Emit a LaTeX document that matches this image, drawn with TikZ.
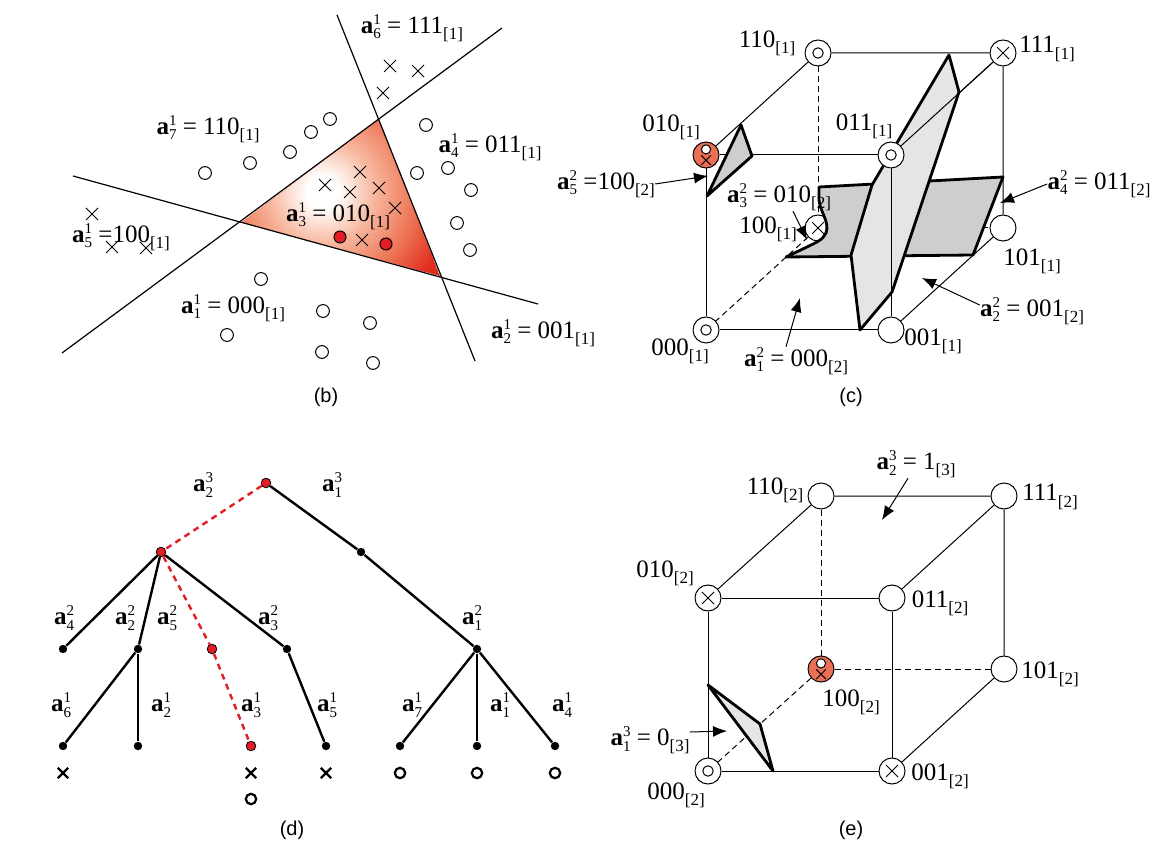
\documentclass[tikz,border=0pt]{standalone}
\usepackage{fontspec}
\setmainfont{Liberation Serif}
\newfontfamily\capfont{Liberation Sans}
\usetikzlibrary{arrows.meta,calc,backgrounds}
\definecolor{DotRed}{RGB}{228,28,36}
\definecolor{TriRed}{rgb}{0.88,0.18,0.12}
\definecolor{Salmon}{RGB}{234,112,86}
\definecolor{PaneDark}{RGB}{205,206,208}
\definecolor{PaneLight}{RGB}{228,229,231}
\pgfdeclareradialshading{trishade}{\pgfpointorigin}{rgb(0bp)=(1,1,1); rgb(3bp)=(1,1,1); rgb(10bp)=(0.97,0.72,0.62); rgb(18bp)=(0.93,0.45,0.33); rgb(25bp)=(0.88,0.18,0.12); rgb(50bp)=(0.88,0.18,0.12)}
\newcommand\labfont{\fontsize{12.5}{14}\selectfont}
\newcommand\scr{\fontsize{7.5}{8}\selectfont}
\newcommand\av[2]{\textbf{a}\rlap{\raisebox{0.8ex}{\scr #2}}\raisebox{-0.5ex}{\scr #1}}
\newcommand\brk[1]{\raisebox{-0.55ex}{\fontsize{8.5}{9}\selectfont[#1]}}
\tikzset{
  lab/.style={font=\labfont,inner sep=0pt},
  caplab/.style={font=\capfont\fontsize{10}{12}\selectfont,inner sep=0pt},
  arr/.style={-{Latex[length=7pt,width=5.5pt]},line width=0.5pt},
  sepline/.style={line width=0.6pt},
  mk/.style={line width=0.5pt},
  cubeline/.style={line width=0.5pt},
  hid/.style={cubeline,dash pattern=on 3pt off 2pt},
  sheet/.style={line width=1.4pt,line join=round},
  vtx/.style={circle,draw,fill=white,minimum size=13pt,inner sep=0pt,line width=0.5pt},
  ovtx/.style={vtx,path picture={\draw[line width=0.5pt] (path picture bounding box.center) circle[radius=2.6pt];}},
  xvtx/.style={vtx,path picture={\draw[line width=0.5pt,shift={(path picture bounding box.center)}] (-3pt,-3pt) -- (3pt,3pt) (-3pt,3pt) -- (3pt,-3pt);}},
  bvtx/.style={vtx,fill=Salmon,path picture={
    \draw[line width=0.5pt,fill=white,shift={(path picture bounding box.center)}] (0pt,2.8pt) circle[radius=2.3pt];
    \draw[line width=0.5pt,shift={(path picture bounding box.center)}] (-2.4pt,-5pt) -- (2.4pt,-0.2pt) (-2.4pt,-0.2pt) -- (2.4pt,-5pt);}},
  bdot/.style={circle,fill=black,minimum size=4.2pt,inner sep=0pt},
  rdot/.style={circle,draw=black,fill=DotRed,line width=0.4pt,minimum size=4.8pt,inner sep=0pt},
  tedge/.style={line width=1.2pt},
  redge/.style={line width=1.2pt,draw=DotRed,dash pattern=on 3pt off 2.4pt},
  leafmk/.style={line width=1.1pt}
}

\begin{document}
\begin{tikzpicture}[x=0.5pt,y=-0.5pt]
  \useasboundingbox (0,0) rectangle (1159,854);

  % (b) regions of the first layer
  \begin{scope}
    \clip (242,222) -- (379,119) -- (440,276) -- cycle;
    \fill[TriRed] (242,222) -- (379,119) -- (440,276) -- cycle;
    \shade[shading=trishade] (322,192) circle[radius=65pt];
  \end{scope}
  \draw[sepline] (62,353) -- (502,28);
  \draw[sepline] (73,176) -- (538,304);
  \draw[sepline] (337,15) -- (475,361);
  \foreach \x/\y in {205/173,250/163,290/152,311/132,330/119,426/125,417/173,448/168,471/190,457/223,470/250,261/279,323/311,370/323,227/335,322/352,373/363}
    \draw[mk] (\x,\y) circle[radius=3.2pt];
  \foreach \x/\y in {390/66,418/71,383/93,360/172,325/185,350/192,379/188,395/208,362/240}
    \draw[mk] (\x,\y) ++(-3pt,-3pt) -- ++(6pt,6pt) ++(-6pt,0pt) -- ++(6pt,-6pt);
  \node[lab] (lb7) at (208,129) {\av{7}{1} = 110\brk{1}};
  \node[lab] (lb6) at (412,28) {\av{6}{1} = 111\brk{1}};
  \node[lab] (lb4) at (490,147) {\av{4}{1} = 011\brk{1}};
  \node[lab] (lb3) at (338,216) {\av{3}{1} = 010\brk{1}};
  \node[lab] (lb5) at (121,237) {\av{5}{1} =100\brk{1}};
  \node[lab] (lb1) at (233,308) {\av{1}{1} = 000\brk{1}};
  \node[lab] (lb2) at (543,333) {\av{2}{1} = 001\brk{1}};
  \foreach \x/\y in {92/214,112/247,146/248}
    \draw[mk] (\x,\y) ++(-3pt,-3pt) -- ++(6pt,6pt) ++(-6pt,0pt) -- ++(6pt,-6pt);
  \foreach \x/\y in {340/237,386/244}
    \draw[mk,fill=DotRed] (\x,\y) circle[radius=3pt];
  \node[caplab] (capb) at (326,397) {(b)};

  % (c) first cube with the second-layer planes
  \node[ovtx] (c000) at (706,330) {};
  \node[vtx] (c001) at (891,330) {};
  \node[ovtx] (c011) at (891,155) {};
  \node[bvtx] (c010) at (706,155) {};
  \node[ovtx] (c110) at (818,53) {};
  \node[xvtx] (c111) at (1003,53) {};
  \node[vtx] (c101) at (1003,228) {};
  \begin{scope}[on background layer]
    \node[xvtx] (c100) at (818,228) {};
    \draw[hid] (c110) -- (c100);
    \draw[hid] (c100) -- (c000);
    \draw[hid] (c100) -- (c101);
    \draw[cubeline] (c000) -- (c001) -- (c011) -- (c010) -- (c000);
    \draw[cubeline] (c010) -- (c110) -- (c111) -- (c011);
    \draw[cubeline] (c111) -- (c101) -- (c001);
    \draw[sheet,fill=PaneDark] (786,257) -- (807,247) .. controls (815,243) and (823,240) .. (826,233)
      .. controls (830,222) and (820,212) .. (819,200) -- (819,187) -- (1003,177) -- (973,255) -- cycle;
    \draw[sheet,fill=PaneLight] (949,55) -- (959,92) -- (892,292) -- (860,330) -- (851,255) -- (872,185) -- cycle;
    \draw[sheet,fill=PaneDark] (741,125) -- (752,156) -- (707,196) -- cycle;
    \draw[cubeline] (c011) -- (c001);
    \draw[cubeline] (c011) -- (c111);
  \end{scope}
  \node[lab] (n110c) at (767,43) {110\brk{1}};
  \node[lab] (n111c) at (1047,49) {111\brk{1}};
  \node[lab] (n010c) at (671,127) {010\brk{1}};
  \node[lab] (n011c) at (864,126) {011\brk{1}};
  \node[lab] (n101c) at (1032,261) {101\brk{1}};
  \node[lab] (n001c) at (933,341) {001\brk{1}};
  \node[lab] (n000c) at (680,351) {000\brk{1}};
  \node[lab] (n100c) at (768,229) {100\brk{1}};
  \node[lab] (l5c) at (606,184) {\av{5}{2} =100\brk{2}};
  \node[lab] (l3c) at (779,197) {\av{3}{2} = 010\brk{2}};
  \node[lab] (l4c) at (1099,184) {\av{4}{2} = 011\brk{2}};
  \node[lab] (l2c) at (1032,311) {\av{2}{2} = 001\brk{2}};
  \node[lab] (l1c) at (796,361) {\av{1}{2} = 000\brk{2}};
  \coordinate (p5c) at (708,176);
  \coordinate (p3c) at (807,240);
  \coordinate (p4c) at (1000,203);
  \coordinate (p2c) at (922,278);
  \coordinate (p1c) at (800,298);
  \draw[arr] (l5c.east) -- (p5c);
  \draw[arr] ([xshift=7pt]l3c.south) -- (p3c);
  \draw[arr] (l4c.west) -- (p4c);
  \draw[arr] ([yshift=3pt]l2c.west) -- (p2c);
  \draw[arr] ([xshift=-5pt]l1c.north) -- (p1c);
  \node[caplab] (capc) at (851,397) {(c)};

  % (d) decision tree
  \node[rdot] (t0) at (266,483) {};
  \node[rdot] (t1) at (161,552) {};
  \node[bdot] (t2) at (361,552) {};
  \node[bdot] (t11) at (63,649) {};
  \node[bdot] (t12) at (138,649) {};
  \node[rdot] (t13) at (212,649) {};
  \node[bdot] (t14) at (287,649) {};
  \node[bdot] (t21) at (477,649) {};
  \node[bdot] (t121) at (63,746) {};
  \node[bdot] (t122) at (138,746) {};
  \node[rdot] (t131) at (251,746) {};
  \node[bdot] (t141) at (326,746) {};
  \node[bdot] (t211) at (400,746) {};
  \node[bdot] (t212) at (477,746) {};
  \node[bdot] (t213) at (555,746) {};
  \draw[redge] (t0) -- (t1);
  \draw[tedge] (t0) -- (t2) -- (t21);
  \draw[tedge] (t1) -- (t11);
  \draw[tedge] (t1) -- (t12);
  \draw[redge] (t1) -- (t13);
  \draw[tedge] (t1) -- (t14);
  \draw[tedge] (t12) -- (t121);
  \draw[tedge] (t12) -- (t122);
  \draw[redge] (t13) -- (t131);
  \draw[tedge] (t14) -- (t141);
  \draw[tedge] (t21) -- (t211);
  \draw[tedge] (t21) -- (t212);
  \draw[tedge] (t21) -- (t213);
  \node[lab] at (203,485) {\av{2}{3}};
  \node[lab] at (332,485) {\av{1}{3}};
  \node[lab] at (64,618) {\av{4}{2}};
  \node[lab] at (125,618) {\av{2}{2}};
  \node[lab] at (167,618) {\av{5}{2}};
  \node[lab] at (268,618) {\av{3}{2}};
  \node[lab] at (472,618) {\av{1}{2}};
  \node[lab] at (61,705) {\av{6}{1}};
  \node[lab] at (161,705) {\av{2}{1}};
  \node[lab] at (251,705) {\av{3}{1}};
  \node[lab] at (327,705) {\av{5}{1}};
  \node[lab] at (412,705) {\av{7}{1}};
  \node[lab] at (500,705) {\av{1}{1}};
  \node[lab] at (562,705) {\av{4}{1}};
  \foreach \x in {63,251,326}
    \draw[leafmk] (\x,773) ++(-2.6pt,-2.6pt) -- ++(5.2pt,5.2pt) ++(-5.2pt,0pt) -- ++(5.2pt,-5.2pt);
  \foreach \x/\y in {400/773,477/773,555/773,251/799}
    \draw[leafmk] (\x,\y) circle[radius=2.6pt];
  \node[caplab] (capd) at (292,830) {(d)};

  % (e) second cube with the third-layer plane
  \node[ovtx] (e000) at (708,771) {};
  \node[xvtx] (e001) at (892,771) {};
  \node[vtx] (e011) at (892,598) {};
  \node[xvtx] (e010) at (708,598) {};
  \node[bvtx] (e100) at (821,669) {};
  \node[vtx] (e101) at (1004,669) {};
  \node[vtx] (e111) at (1004,496) {};
  \node[vtx] (e110) at (821,496) {};
  \begin{scope}[on background layer]
    \draw[hid] (e110) -- (e100);
    \draw[hid] (e100) -- (e101);
    \draw[hid] (e100) -- (e000);
    \draw[cubeline] (e000) -- (e001) -- (e011) -- (e010) -- (e000);
    \draw[cubeline] (e010) -- (e110) -- (e111) -- (e011);
    \draw[cubeline] (e111) -- (e101) -- (e001);
    \draw[sheet,fill=PaneLight] (708,685) -- (760,724) -- (773,771) -- cycle;
  \end{scope}
  \node[lab] (n110e) at (775,490) {110\brk{2}};
  \node[lab] (n111e) at (1050,497) {111\brk{2}};
  \node[lab] (n010e) at (665,573) {010\brk{2}};
  \node[lab] (n011e) at (940,603) {011\brk{2}};
  \node[lab] (n100e) at (851,702) {100\brk{2}};
  \node[lab] (n101e) at (1050,674) {101\brk{2}};
  \node[lab] (n000e) at (676,795) {000\brk{2}};
  \node[lab] (n001e) at (940,776) {001\brk{2}};
  \node[lab] (l23e) at (916,464) {\av{2}{3} = 1\brk{3}};
  \node[lab] (l13e) at (650,740) {\av{1}{3} = 0\brk{3}};
  \coordinate (p23e) at (882,520);
  \coordinate (p13e) at (727,731);
  \draw[arr] ([xshift=-4pt]l23e.south) -- (p23e);
  \draw[arr] ([yshift=4pt]l13e.east) -- (p13e);
  \node[caplab] (cape) at (851,830) {(e)};
\end{tikzpicture}
\end{document}
